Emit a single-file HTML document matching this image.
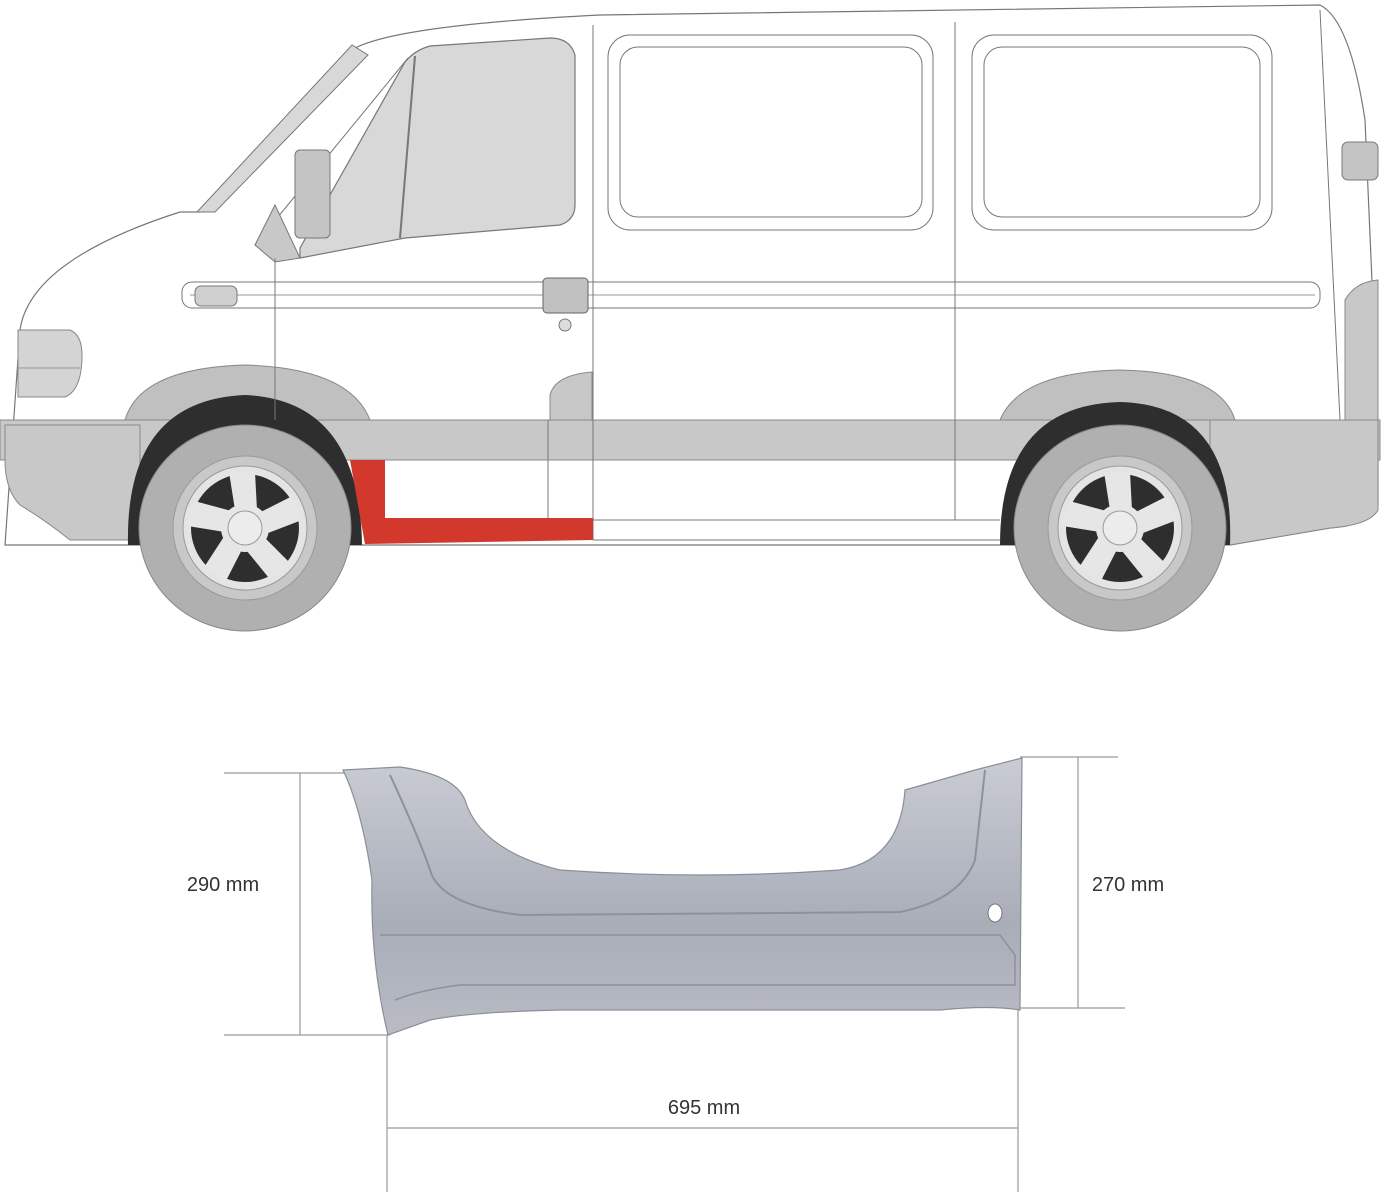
<!DOCTYPE html>
<html><head><meta charset="utf-8"><style>
html,body{margin:0;padding:0;background:#fff;}
svg{display:block}
text{font-family:"Liberation Sans",sans-serif;font-size:20px;fill:#333}
</style></head><body>
<svg width="1382" height="1200" viewBox="0 0 1382 1200" xmlns="http://www.w3.org/2000/svg">
<defs>
<linearGradient id="pg" x1="0" y1="0" x2="0" y2="1">
<stop offset="0" stop-color="#c9ccd3"/><stop offset="0.6" stop-color="#a9adb8"/><stop offset="1" stop-color="#b9bcc4"/>
</linearGradient>
<g id="wheel">
<ellipse cx="0" cy="0" rx="106" ry="103" fill="#b0b0b0" stroke="#888" stroke-width="1"/>
<circle r="72" fill="#c8c8c8" stroke="#999"/>
<circle r="62" fill="#e4e4e4" stroke="#999"/>
<circle r="54" fill="#2e2e2e"/>
<g fill="#e6e6e6">
<path d="M-10,-18 L-16,-56 L10,-56 L12,-18Z"/>
<path d="M-10,-18 L-16,-56 L10,-56 L12,-18Z" transform="rotate(72)"/>
<path d="M-10,-18 L-16,-56 L10,-56 L12,-18Z" transform="rotate(144)"/>
<path d="M-10,-18 L-16,-56 L10,-56 L12,-18Z" transform="rotate(216)"/>
<path d="M-10,-18 L-16,-56 L10,-56 L12,-18Z" transform="rotate(288)"/>
<circle r="24"/>
</g>
<circle r="17" fill="#ececec" stroke="#999"/>
</g>
</defs>
<path d="M20,330 Q30,260 180,212 L200,212 L355,48 Q400,25 600,15 L1320,5 Q1350,20 1365,120 L1378,420 L1378,505 Q1370,525 1330,528 L1230,545 L5,545 Z" fill="#fff" stroke="#777" stroke-width="1.2"/>
<rect x="0" y="420" width="1380" height="40" fill="#c8c8c8" stroke="#888" stroke-width="1"/>
<path d="M5,425 L140,425 L140,540 L70,540 Q45,520 20,505 Q5,490 5,460 Z" fill="#c8c8c8" stroke="#888"/>
<path d="M1210,420 L1378,420 L1378,510 Q1370,525 1330,528 L1230,545 L1210,545 Z" fill="#c8c8c8" stroke="#888"/>
<path d="M18,330 L70,330 Q82,335 82,355 Q82,390 65,397 L18,397 Z" fill="#d4d4d4" stroke="#888"/>
<line x1="18" y1="368" x2="80" y2="368" stroke="#999"/>
<path d="M125,420 Q140,368 245,365 Q350,368 370,420 Z" fill="#c0c0c0" stroke="#888"/>
<path d="M1000,420 Q1020,372 1120,370 Q1220,372 1235,420 Z" fill="#c0c0c0" stroke="#888"/>
<path d="M128,545 Q125,400 245,395 Q360,400 362,545 Z" fill="#2e2e2e"/>
<path d="M1000,545 Q1000,405 1120,402 Q1235,405 1230,545 Z" fill="#2e2e2e"/>
<!-- windshield strip -->
<path d="M197,212 L352,45 L368,55 L215,212 Z" fill="#d8d8d8" stroke="#777"/>
<line x1="255" y1="245" x2="408" y2="58" stroke="#777"/>
<!-- front windows -->
<path d="M300,258 L405,238 L560,225 Q575,220 575,205 L575,55 Q570,38 550,38 L430,46 Q415,50 405,62 L300,248 Z" fill="#d8d8d8" stroke="#777" stroke-width="1.2"/>
<line x1="415" y1="56" x2="400" y2="238" stroke="#777" stroke-width="2"/>
<path d="M255,245 L275,205 L300,258 L275,262 Z" fill="#c8c8c8" stroke="#777"/>
<rect x="295" y="150" width="35" height="88" rx="5" fill="#c4c4c4" stroke="#777"/>
<rect x="608" y="35" width="325" height="195" rx="22" fill="#fff" stroke="#777"/>
<rect x="620" y="47" width="302" height="170" rx="18" fill="none" stroke="#777"/>
<rect x="972" y="35" width="300" height="195" rx="22" fill="#fff" stroke="#777"/>
<rect x="984" y="47" width="276" height="170" rx="18" fill="none" stroke="#777"/>
<rect x="182" y="282" width="1138" height="26" rx="10" fill="#fff" stroke="#777"/>
<line x1="190" y1="295" x2="1315" y2="295" stroke="#999"/>
<rect x="195" y="286" width="42" height="20" rx="6" fill="#d0d0d0" stroke="#777"/>
<rect x="543" y="278" width="45" height="35" rx="4" fill="#c0c0c0" stroke="#666"/>
<circle cx="565" cy="325" r="6" fill="#ddd" stroke="#777"/>
<path d="M550,420 L550,395 Q555,375 592,372 L592,420 Z" fill="#c8c8c8" stroke="#888"/>
<rect x="1342" y="142" width="36" height="38" rx="6" fill="#c4c4c4" stroke="#777"/>
<path d="M1345,420 L1345,300 Q1355,282 1378,280 L1378,420 Z" fill="#c8c8c8" stroke="#888"/>
<g stroke="#777" fill="none" stroke-width="1">
<line x1="275" y1="258" x2="275" y2="420"/>
<line x1="593" y1="25" x2="593" y2="540"/>
<line x1="955" y1="22" x2="955" y2="520"/>
<line x1="1320" y1="10" x2="1340" y2="420"/>
<line x1="548" y1="420" x2="548" y2="540"/>
<line x1="593" y1="520" x2="1000" y2="520"/>
<line x1="593" y1="540" x2="1000" y2="540"/>
</g>
<path d="M350,460 L385,460 L385,518 L593,518 L593,540 L365,544 L358,505 Z" fill="#d2382c"/>
<use href="#wheel" transform="translate(245,528)"/>
<use href="#wheel" transform="translate(1120,528)"/>
<g stroke="#999" stroke-width="1.2">
<line x1="224" y1="773" x2="345" y2="773"/>
<line x1="224" y1="1035" x2="390" y2="1035"/>
<line x1="300" y1="773" x2="300" y2="1035"/>
<line x1="1020" y1="757" x2="1118" y2="757"/>
<line x1="1015" y1="1008" x2="1125" y2="1008"/>
<line x1="1078" y1="757" x2="1078" y2="1008"/>
<line x1="387" y1="1035" x2="387" y2="1192"/>
<line x1="1018" y1="1010" x2="1018" y2="1192"/>
<line x1="387" y1="1128" x2="1018" y2="1128"/>
</g>
<path d="M343,770 L400,767 Q455,775 465,800 Q480,850 560,870 Q700,880 840,870 Q900,860 905,790 L975,770 L1022,758 L1020,1010 Q990,1005 940,1010 L560,1010 Q470,1012 430,1020 L388,1035 Q370,960 372,880 Q362,810 343,770 Z" fill="url(#pg)" stroke="#8a8e98" stroke-width="1.2"/>
<path d="M390,775 Q420,840 430,870 Q440,905 520,915 L900,912 Q960,900 975,860 L985,770" fill="none" stroke="#8d919b" stroke-width="2"/>
<path d="M380,935 L1000,935 L1015,955 L1015,985 L460,985 Q420,990 395,1000" fill="none" stroke="#8d919b" stroke-width="1.5"/>
<ellipse cx="995" cy="913" rx="7" ry="9" fill="#fff" stroke="#777"/>
<text x="223" y="891" text-anchor="middle">290 mm</text>
<text x="1128" y="891" text-anchor="middle">270 mm</text>
<text x="704" y="1114" text-anchor="middle">695 mm</text>
</svg>
</body></html>
